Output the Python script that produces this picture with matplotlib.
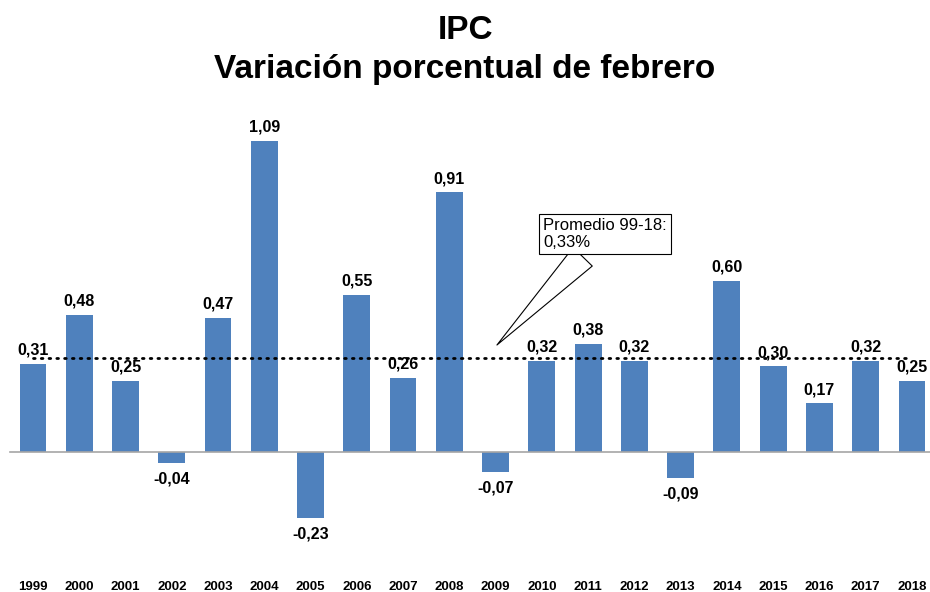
import matplotlib
matplotlib.use("Agg")
import matplotlib.pyplot as plt

years = ["1999", "2000", "2001", "2002", "2003", "2004", "2005", "2006", "2007", "2008",
         "2009", "2010", "2011", "2012", "2013", "2014", "2015", "2016", "2017", "2018"]
values = [0.31, 0.48, 0.25, -0.04, 0.47, 1.09, -0.23, 0.55, 0.26, 0.91,
          -0.07, 0.32, 0.38, 0.32, -0.09, 0.60, 0.30, 0.17, 0.32, 0.25]
average = 0.33
avg_label = "Promedio 99-18:\n0,33%"
title = "IPC\nVariación porcentual de febrero"

plt.rcParams['font.family'] = ['Liberation Sans', 'DejaVu Sans']

fig = plt.figure(figsize=(9.30, 5.92), dpi=100)
ax = fig.add_axes([0, 32/592, 1, 460/592])
x = list(range(len(years)))
ax.bar(x, values, width=0.58, color="#4F81BD", zorder=2)

ax.set_xlim(-33/46.26, (930-33)/46.26)
ax.set_ylim(-108/285.3, 352/285.3)

# zero line
ax.plot([-0.5, 20], [0, 0], color="#A6A6A6", lw=1.2, zorder=3)
# average dotted line
ax.plot([0, (907-33)/46.26], [average, average], color="black", lw=2,
        linestyle=(0, (0.6, 2.2)), dash_capstyle="round", zorder=4)

for xi, v in zip(x, values):
    lab = f"{v:.2f}".replace(".", ",")
    if v >= 0:
        ax.text(xi, v + 0.022, lab, ha="center", va="bottom", fontsize=11.5,
                fontweight="bold", zorder=5)
    else:
        ax.text(xi, v - 0.03, lab, ha="center", va="top", fontsize=11.5,
                fontweight="bold", zorder=5)

ax.set_xticks(x)
ax.set_xticklabels(years, fontsize=9.5, fontweight="bold")
ax.tick_params(axis="x", length=0, pad=15)
ax.set_yticks([])
for s in ax.spines.values():
    s.set_visible(False)

# callout
ax.annotate(avg_label, xy=((495-33)/46.26, (452-347)/285.3),
            xytext=((543-33)/46.26, (452-234)/285.3),
            ha="left", va="center", fontsize=12,
            bbox=dict(boxstyle="square,pad=0.25", fc="white", ec="black", lw=0.8),
            arrowprops=dict(arrowstyle="wedge,tail_width=1.6,shrink_factor=0.5",
                            fc="white", ec="black", lw=0.8),
            zorder=6)

fig.text(0.5, 1 - 50/592, title, ha="center", va="center", fontsize=24,
         fontweight="bold", linespacing=1.32)

fig.savefig("out.png", dpi=100)
